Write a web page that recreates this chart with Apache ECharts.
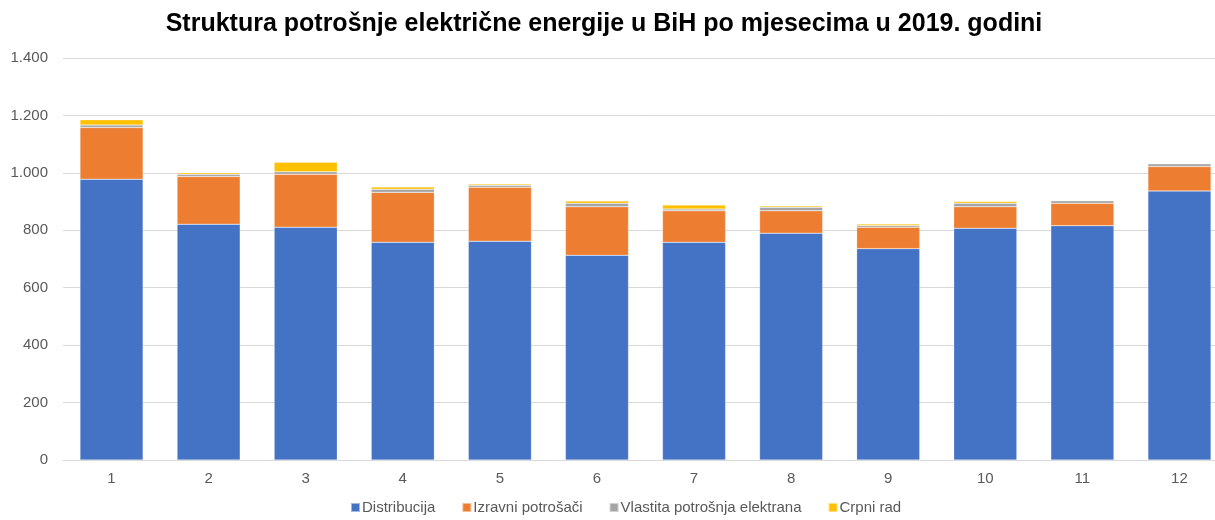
<!DOCTYPE html>
<html>
<head>
<meta charset="utf-8">
<script src="https://cdn.jsdelivr.net/npm/echarts@6/dist/echarts.min.js"></script>
<style>
  html, body { margin: 0; padding: 0; background: #fff; overflow: hidden; }
  #wrap { width: 1215px; height: 520px; overflow: hidden; }
  #chart { width: 1228px; height: 520px; }
</style>
</head>
<body>
<div id="wrap"><div id="chart"></div></div>
<script>
const months = ['1', '2', '3', '4', '5', '6', '7', '8', '9', '10', '11', '12'];
const distribucija = [978, 821, 811, 758, 762, 713, 758, 790, 736, 807, 816, 937];
const izravni = [180, 166, 184, 174, 188, 169, 110, 78, 75, 75, 78, 85];
const vlastita = [9, 8, 9, 11, 7, 12, 6, 12, 6, 12, 9, 10];
const crpni = [18, 5, 33, 8, 4, 8, 14, 5, 5, 6, 1, 0];

const textColor = '#595959';
const font = 'Liberation Sans, Arial, sans-serif';

function fmtThousands(v) {
  return String(v).replace(/\B(?=(\d{3})+(?!\d))/g, '.');
}

function barSeries(name, data, color) {
  return {
    name: name,
    type: 'bar',
    stack: 'total',
    barCategoryGap: '35%',
    data: data,
    itemStyle: { color: color, borderColor: 'rgba(255,255,255,0.5)', borderWidth: 0.5 }
  };
}

const chart = echarts.init(document.getElementById('chart'));
chart.setOption({
  animation: false,
  textStyle: { fontFamily: font },
  title: {
    text: 'Struktura potrošnje električne energije u BiH po mjesecima u 2019. godini',
    left: 599,
    textAlign: 'center',
    top: 7,
    textStyle: { fontSize: 25, fontWeight: 'bold', color: '#000', fontFamily: font }
  },
  legend: {
    bottom: 0,
    left: 345,
    itemWidth: 9,
    itemHeight: 9,
    itemGap: 26,
    icon: 'rect',
    textStyle: { color: textColor, fontSize: 15, padding: [0, 0, 0, -3] }
  },
  grid: { left: 63, right: 0, top: 58, bottom: 60 },
  xAxis: {
    type: 'category',
    data: months,
    axisLine: { lineStyle: { color: '#d9d9d9' } },
    axisTick: { show: false },
    axisLabel: { color: textColor, fontSize: 15, margin: 11 }
  },
  yAxis: {
    type: 'value',
    min: 0,
    max: 1400,
    interval: 200,
    axisLine: { show: false },
    axisTick: { show: false },
    axisLabel: { color: textColor, fontSize: 15, margin: 15, formatter: fmtThousands },
    splitLine: { lineStyle: { color: '#d9d9d9' } }
  },
  series: [
    barSeries('Distribucija', distribucija, '#4472C4'),
    barSeries('Izravni potrošači', izravni, '#ED7D31'),
    barSeries('Vlastita potrošnja elektrana', vlastita, '#A5A5A5'),
    barSeries('Crpni rad', crpni, '#FFC000')
  ]
});
</script>
</body>
</html>
